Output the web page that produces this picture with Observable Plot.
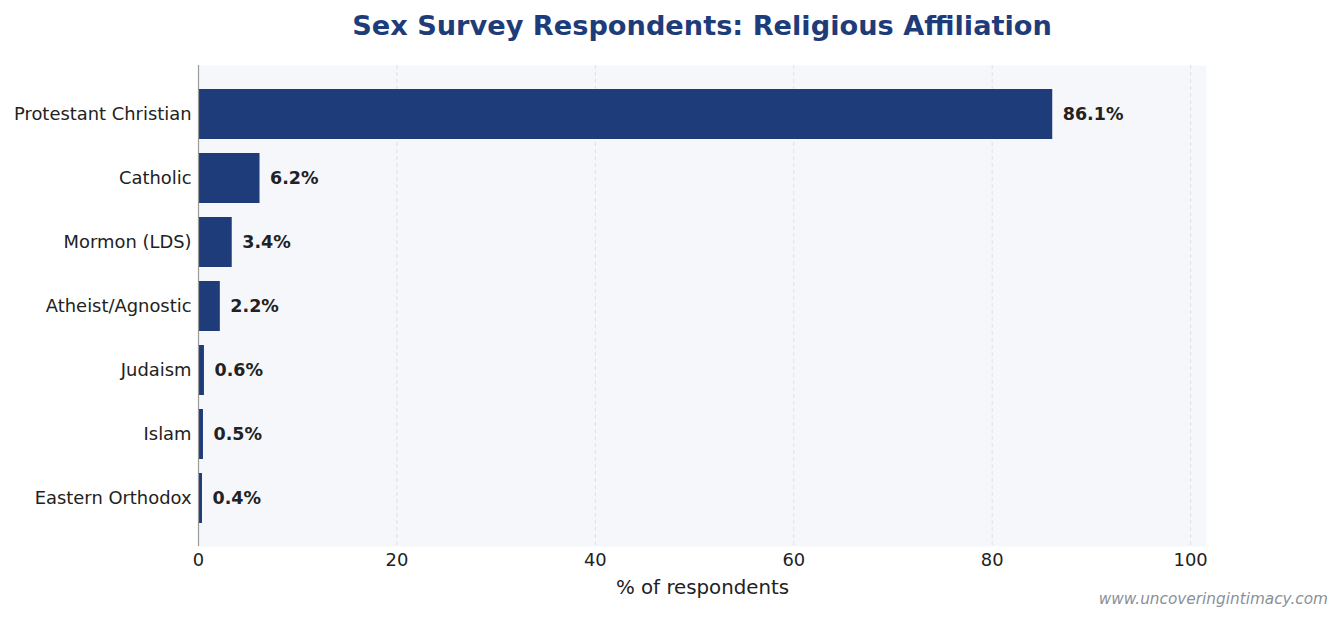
<!DOCTYPE html>
<html>
<head>
<meta charset="utf-8">
<script src="https://cdn.jsdelivr.net/npm/d3@7"></script>
<script src="https://cdn.jsdelivr.net/npm/@observablehq/plot@0.6"></script>
<style>
  html, body { margin: 0; padding: 0; background: #fff; }
  #wrap { position: relative; width: 1342px; height: 620px; font-family: "DejaVu Sans", sans-serif; }
  #title { position: absolute; left: 0; top: 1px; width: 1404px; text-align: center; height: 50px; line-height: 50px;
           font-size: 27.2px; font-weight: bold; color: #1f3c7a; }
  #chart { position: absolute; left: 0; top: 50px; }
  #caption { position: absolute; right: 14px; top: 590px; font-size: 15.3px; font-style: italic; color: #8a909a; }
</style>
</head>
<body>
<div id="wrap">
  <div id="title">Sex Survey Respondents: Religious Affiliation</div>
  <div id="chart"></div>
  <div id="caption">www.uncoveringintimacy.com</div>
</div>
<script>
const categories = ["Protestant Christian", "Catholic", "Mormon (LDS)", "Atheist/Agnostic", "Judaism", "Islam", "Eastern Orthodox"];
const values = [86.1, 6.2, 3.4, 2.2, 0.6, 0.5, 0.4];
const xTicks = [0, 20, 40, 60, 80, 100];

const data = categories.map((c, i) => ({category: c, value: values[i], label: values[i].toFixed(1) + "%"}));

const chart = Plot.plot({
  width: 1342,
  height: 570,
  marginLeft: 198,
  marginRight: 136,
  marginTop: 15,
  marginBottom: 74,
  style: {fontFamily: "DejaVu Sans, sans-serif", fontSize: "17.9px", color: "#222", background: "transparent"},
  x: {domain: [0, 86.1 * 1.18], ticks: xTicks, label: null},
  y: {domain: categories, paddingInner: 0.22, paddingOuter: 0.358, label: null},
  marks: [
    Plot.frame({fill: "#f6f7fb", stroke: null}),
    Plot.ruleX(xTicks, {stroke: "#d5d9e2", strokeDasharray: "4,3", strokeWidth: 0.8}),
    Plot.barX(data, {x: "value", y: "category", fill: "#1f3c7a"}),
    Plot.text(data, {x: "value", y: "category", text: "label", dx: 10, textAnchor: "start",
      fontWeight: "bold", fontSize: 17.5, fill: "#222"}),
    Plot.axisX({ticks: xTicks, tickSize: 0, tickPadding: 7, fill: "#222", label: null}),
    Plot.text(["% of respondents"], {frameAnchor: "bottom", dy: 47, fontSize: 19.8, fill: "#222"}),
    Plot.axisY({tickSize: 0, tickPadding: 7, fill: "#222", label: null}),
    Plot.ruleX([0], {stroke: "#9a9a9a", strokeWidth: 1.2}),
    Plot.ruleY([0], {stroke: "#9a9a9a", strokeWidth: 1.2, x1: 0, x2: 86.1 * 1.18, y: () => null})
  ]
});
document.getElementById("chart").appendChild(chart);
</script>
</body>
</html>
